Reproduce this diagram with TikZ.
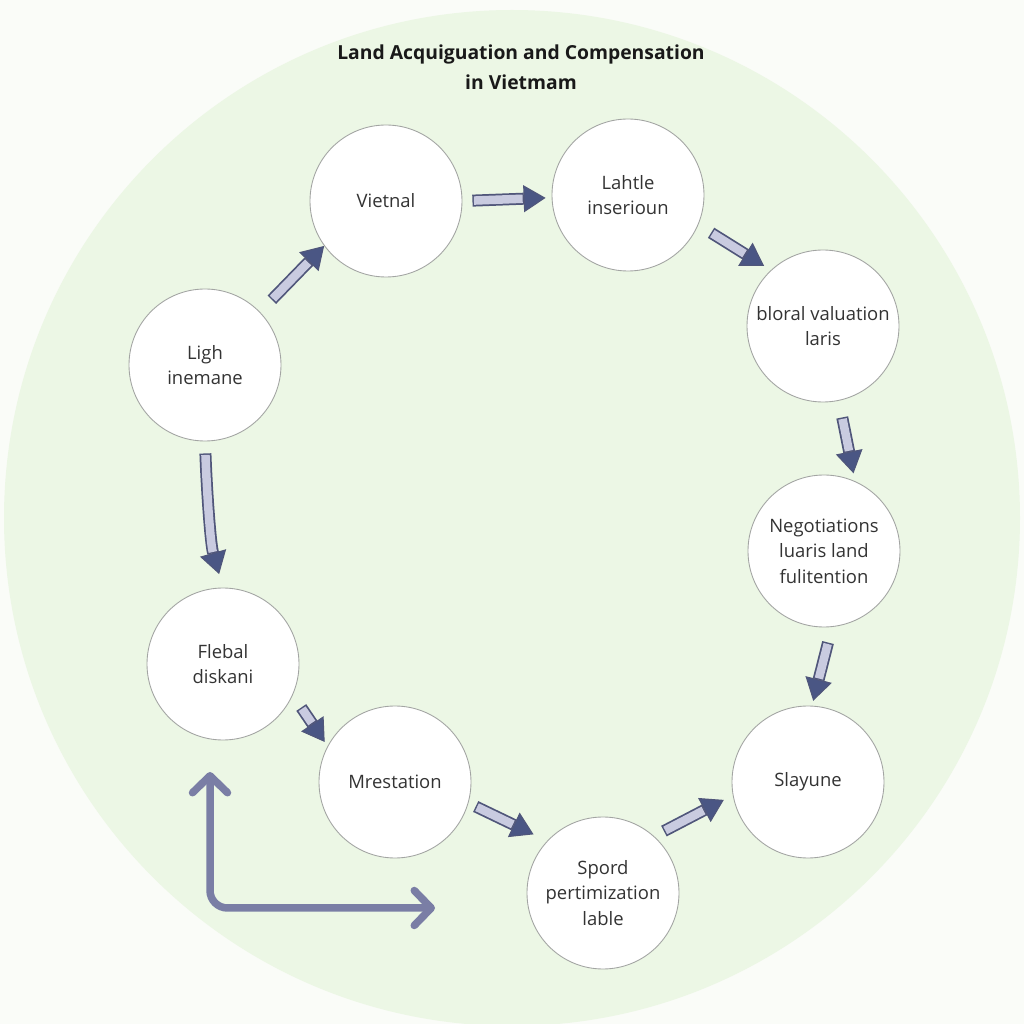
\documentclass[tikz,border=0pt]{standalone}
\usepackage{fontspec}
\setmainfont{Open Sans}
\usetikzlibrary{arrows.meta, calc, positioning}

\definecolor{paper}{HTML}{FAFCF8}
\definecolor{bggreen}{HTML}{ECF7E5}
\definecolor{ringgray}{HTML}{A3A5A3}
\definecolor{bodylav}{HTML}{C9CBE0}
\definecolor{bodyedge}{HTML}{50567A}
\definecolor{headblue}{HTML}{4A5684}
\definecolor{loopcol}{HTML}{7A7EA5}
\definecolor{txt}{HTML}{333333}

\begin{document}
\begin{tikzpicture}[
    stage/.style={circle, draw=ringgray, line width=0.5pt, fill=white, minimum size=3.04cm,
        inner sep=0pt, align=center, text=txt, font=\fontsize{10.5}{14.5}\selectfont},
    blockarrow/.style 2 args={line width=0.24cm, draw=bodyedge, shorten <=#1, shorten >=#2,
        -{Triangle[length=0.44cm, width=0.54cm, line width=0.6pt, color=bodyedge, fill=headblue]},
        postaction={draw=bodylav, line width=0.17cm, -, shorten <=#1+0.03cm, shorten >=#2+0.46cm}},
    looparrow/.style={draw=loopcol, line width=0.15cm, line cap=round, line join=round,
        rounded corners=0.35cm,
        {Straight Barb[round, length=0.34cm, width=0.7cm]}-{Straight Barb[round, length=0.34cm, width=0.7cm]}}
]
    \useasboundingbox (0,0) rectangle (20.48,20.48);
    \fill[paper] (0,0) rectangle (20.48,20.48);
    \fill[bggreen] (10.24,10.12) circle (10.16);

    % title
    \node[font=\bfseries\fontsize{11}{17}\selectfont, align=center, text=black!90] (title) at (10.42,19.14)
        {Land Acquiguation and Compensation\\in Vietmam};

    % stages round the ring
    \node[stage] (ligh) at (4.10,13.18) {Ligh\\inemane};
    \node[stage] (vietnal) at (7.72,16.46) {Vietnal};
    \node[stage] (lahtle) at (12.56,16.58) {Lahtle\\inserioun};
    \node[stage] (bloral) at (16.46,13.96) {bloral valuation\\laris};
    \node[stage] (negot) at (16.48,9.46) {Negotiations\\luaris land\\fulitention};
    \node[stage] (slayune) at (16.16,4.84) {Slayune};
    \node[stage] (spord) at (12.06,2.62) {Spord\\pertimization\\lable};
    \node[stage] (mrest) at (7.90,4.84) {Mrestation};
    \node[stage] (flebal) at (4.46,7.20) {Flebal\\diskani};

    % block arrows
    \draw[blockarrow={0.34cm}{0cm}] (ligh.44) -- (vietnal.216);
    \draw[blockarrow={0.2cm}{0.12cm}] (vietnal.0) -- (lahtle.182);
    \draw[blockarrow={0.3cm}{0.16cm}] (lahtle.-23) -- (bloral.133);
    \draw[blockarrow={0.34cm}{0.16cm}] (bloral.-78) -- (negot.66);
    \draw[blockarrow={0.32cm}{0.1cm}] (negot.-84) -- (slayune.87);
    \draw[blockarrow={0.22cm}{0.2cm}] (spord.48) -- (slayune.190);
    \draw[blockarrow={0.16cm}{0.3cm}] (mrest.-16) -- (spord.137);
    \draw[blockarrow={0.3cm}{0.1cm}] (flebal.-24) -- (mrest.152);
    \draw[blockarrow={0.24cm}{0.28cm}] (ligh.south) to[out=-88, in=106, looseness=0.8] (flebal.north);

    % return arrow
    \coordinate (loopup) at (4.20,5.04);
    \coordinate (loopright) at (8.70,2.32);
    \draw[looparrow] (loopup) |- (loopright);
\end{tikzpicture}
\end{document}
